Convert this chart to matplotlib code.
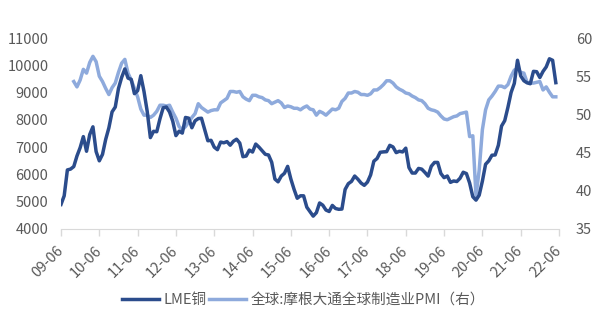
import matplotlib
matplotlib.use("Agg")
import matplotlib.pyplot as plt
import numpy as np

plt.rcParams['font.family'] = ['Noto Sans CJK SC', 'DejaVu Sans']

# monthly values, copper from 2009-06, PMI from 2009-10, both to 2022-05
copper = [
    4900, 5216, 6165, 6196, 6288, 6676, 6982,                                  # 2009
    7386, 6849, 7463, 7745, 6838, 6499, 6735, 7284, 7709, 8292, 8470, 9147,    # 2010
    9556, 9867, 9530, 9483, 8960, 9067, 9619, 9040, 8315, 7350, 7581, 7565,    # 2011
    8040, 8441, 8471, 8289, 7955, 7423, 7584, 7515, 8088, 8062, 7711, 7966,    # 2012
    8047, 8060, 7646, 7234, 7250, 7000, 6907, 7186, 7159, 7203, 7071, 7215,    # 2013
    7291, 7149, 6650, 6674, 6891, 6821, 7113, 7002, 6872, 6737, 6713, 6446,    # 2014
    5831, 5729, 5940, 6042, 6295, 5833, 5457, 5127, 5217, 5216, 4800, 4639,    # 2015
    4472, 4599, 4954, 4873, 4695, 4642, 4864, 4751, 4722, 4731, 5450, 5660,    # 2016
    5745, 5941, 5825, 5684, 5600, 5720, 5985, 6485, 6583, 6812, 6826, 6834,    # 2017
    7066, 7007, 6799, 6849, 6824, 6962, 6252, 6051, 6051, 6220, 6194, 6073,    # 2018
    5939, 6300, 6439, 6440, 6033, 5882, 5942, 5710, 5760, 5740, 5860, 6080,    # 2019
    6031, 5687, 5183, 5058, 5239, 5755, 6372, 6498, 6704, 6713, 7068, 7772,    # 2020
    7971, 8460, 9005, 9336, 10184, 9612, 9433, 9357, 9324, 9778, 9765, 9551,  # 2021
    9776, 9941, 10238, 10183, 9363,                                            # 2022
]

pmi = [
    54.3, 53.6, 54.5,                                                          # 2009
    55.9, 55.4, 56.8, 57.6, 56.9, 55.0, 54.3, 53.4, 52.6, 53.5, 54.1, 55.5,    # 2010
    56.7, 57.2, 55.4, 54.5, 53.4, 52.3, 50.7, 49.9, 49.9, 49.6, 49.9, 50.4,    # 2011
    51.2, 51.2, 51.1, 51.2, 50.3, 49.5, 48.4, 48.0, 48.4, 49.0, 49.6, 50.1,    # 2012
    51.4, 50.9, 50.6, 50.3, 50.5, 50.6, 50.6, 51.5, 51.8, 52.1, 53.0, 53.0,    # 2013
    52.9, 53.0, 52.3, 52.0, 51.8, 52.5, 52.5, 52.3, 52.2, 51.9, 51.8, 51.4,    # 2014
    51.6, 51.8, 51.5, 50.9, 51.1, 51.0, 50.8, 50.8, 50.6, 50.9, 51.1, 50.7,    # 2015
    50.6, 49.9, 50.4, 50.2, 49.9, 50.3, 50.7, 50.6, 50.8, 51.7, 52.1, 52.8,    # 2016
    52.8, 53.0, 52.9, 52.6, 52.6, 52.5, 52.7, 53.2, 53.2, 53.5, 53.9, 54.4,    # 2017
    54.4, 54.1, 53.6, 53.3, 53.1, 52.8, 52.7, 52.4, 52.2, 51.9, 51.8, 51.4,    # 2018
    50.8, 50.6, 50.5, 50.3, 49.8, 49.4, 49.3, 49.5, 49.7, 49.8, 50.1, 50.2,    # 2019
    50.3, 47.1, 47.2, 39.3, 42.7, 48.0, 50.6, 51.9, 52.4, 53.0, 53.7, 53.7,    # 2020
    53.5, 53.9, 55.0, 55.8, 56.0, 55.5, 55.4, 54.2, 54.1, 54.1, 54.2, 54.3,    # 2021
    53.2, 53.6, 52.9, 52.3, 52.3,                                              # 2022
]

tick_labels = ["09-06", "10-06", "11-06", "12-06", "13-06", "14-06", "15-06",
               "16-06", "17-06", "18-06", "19-06", "20-06", "21-06", "22-06"]

pmi_start = 4  # PMI series begins 4 months after copper
x_cu = np.arange(len(copper))
x_pmi = np.arange(len(pmi)) + pmi_start

dark = "#2b4c8c"
light = "#8eaadc"
txt = "#595959"

fig = plt.figure(figsize=(6.07, 3.25), dpi=100)
ax = fig.add_axes([61/607, 1 - 229/325, 498/607, 191/325])
ax2 = ax.twinx()

l1, = ax.plot(x_cu, copper, color=dark, lw=2.5, solid_joinstyle="round", zorder=3)
l2, = ax2.plot(x_pmi, pmi, color=light, lw=2.5, solid_joinstyle="round", zorder=2)
ax.set_zorder(ax2.get_zorder() + 1)
ax.patch.set_visible(False)

ax.set_xlim(0, 12 * (len(tick_labels) - 1))
ax.set_ylim(4000, 11000)
ax.set_yticks(range(4000, 11001, 1000))
ax2.set_ylim(35, 60)
ax2.set_yticks(range(35, 61, 5))

ax.set_xticks(np.arange(len(tick_labels)) * 12)
ax.set_xticklabels(tick_labels, rotation=45, ha="right", va="center",
                   rotation_mode="anchor")

for a in (ax, ax2):
    for s in a.spines.values():
        s.set_visible(False)
ax.spines["bottom"].set_visible(True)
ax.spines["bottom"].set_color("#d9d9d9")

ax.tick_params(axis="x", colors="#d9d9d9", length=5, width=1, pad=9,
               labelcolor=txt, labelsize=10.5)
ax.tick_params(axis="y", length=0, pad=9, labelcolor=txt, labelsize=10.5)
ax2.tick_params(axis="y", length=0, pad=12, labelcolor=txt, labelsize=10.5)

fig.legend([l1, l2], ["LME铜", "全球:摩根大通全球制造业PMI（右）"],
           loc="center", bbox_to_anchor=(0.5, 1 - 300/325), ncol=2,
           frameon=False, fontsize=10.5, labelcolor=txt, handlelength=2.5,
           handletextpad=0.3, columnspacing=0.2)

fig.savefig("out.png", dpi=100)
